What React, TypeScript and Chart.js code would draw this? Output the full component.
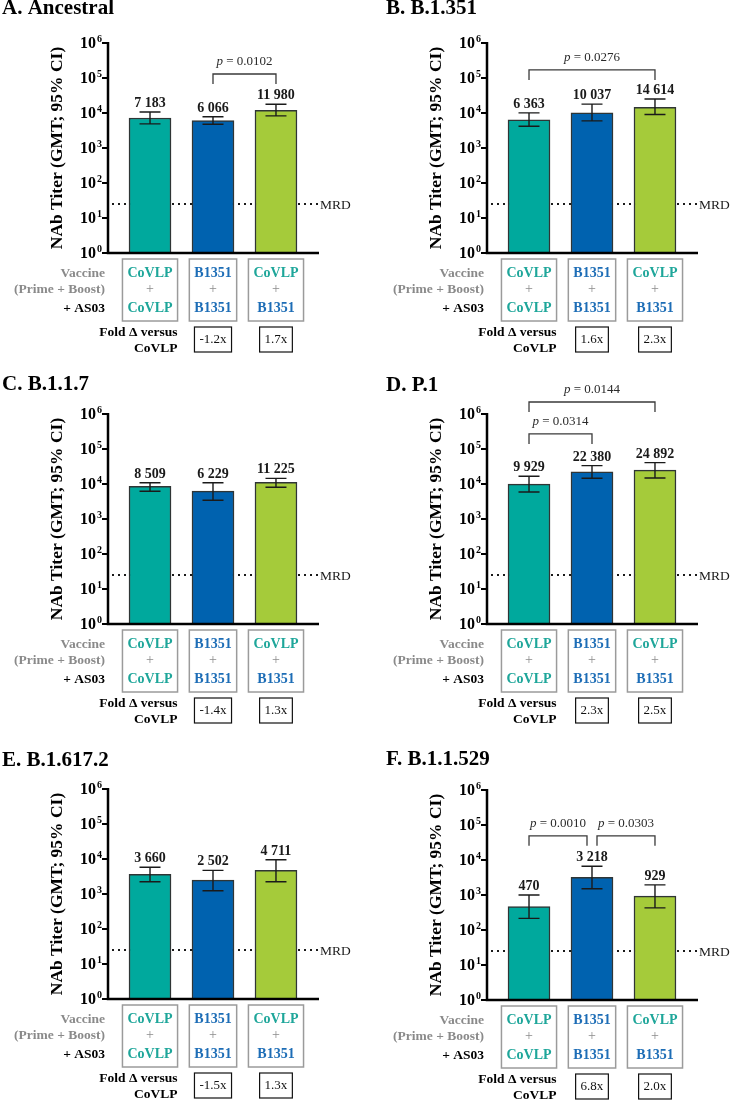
import React, { useEffect, useRef } from "react";
import { Chart, registerables } from "chart.js";

Chart.register(...registerables);

// ---------- data ----------
const categories = ["CoVLP + CoVLP", "B1351 + B1351", "CoVLP + B1351"];
const primeLabels = ["CoVLP", "B1351", "CoVLP"];
const boostLabels = ["CoVLP", "B1351", "B1351"];
const rowLabels = ["Vaccine", "(Prime + Boost)", "+ AS03"];
const foldLabel = ["Fold Δ versus", "CoVLP"];
const yTickExponents = [0, 1, 2, 3, 4, 5, 6];
const MRD = 25;

const panelTitles = ["A. Ancestral", "B. B.1.351", "C. B.1.1.7", "D. P.1", "E. B.1.617.2", "F. B.1.1.529"];

const gmtAncestral = [7183, 6066, 11980];
const lowAncestral = [4900, 4750, 8300];
const highAncestral = [10700, 7800, 17700];
const foldAncestral = ["", "-1.2x", "1.7x"];
const pAncestral = [{ from: 1, to: 2, p: "0.0102", level: 130000 }];

const gmtB1351 = [6363, 10037, 14614];
const lowB1351 = [4170, 5970, 9060];
const highB1351 = [10100, 17900, 25000];
const foldB1351 = ["", "1.6x", "2.3x"];
const pB1351 = [{ from: 0, to: 2, p: "0.0276", level: 170000 }];

const gmtB117 = [8509, 6229, 11225];
const lowB117 = [6200, 3440, 8060];
const highB117 = [10900, 10900, 14500];
const foldB117 = ["", "-1.4x", "1.3x"];
const pB117: { from: number; to: number; p: string; level: number }[] = [];

const gmtP1 = [9929, 22380, 24892];
const lowP1 = [5900, 14600, 14800];
const highP1 = [16600, 33600, 40700];
const foldP1 = ["", "2.3x", "2.5x"];
const pP1 = [
  { from: 0, to: 1, p: "0.0314", level: 270000 },
  { from: 0, to: 2, p: "0.0144", level: 2200000 },
];

const gmtDelta = [3660, 2502, 4711];
const lowDelta = [2240, 1240, 2240];
const highDelta = [5800, 4740, 9550];
const foldDelta = ["", "-1.5x", "1.3x"];
const pDelta: { from: number; to: number; p: string; level: number }[] = [];

const gmtOmicron = [470, 3218, 929];
const lowOmicron = [215, 1510, 430];
const highOmicron = [1000, 6600, 1950];
const foldOmicron = ["", "6.8x", "2.0x"];
const pOmicron = [
  { from: 0, to: 1, p: "0.0010", level: 49000 },
  { from: 1, to: 2, p: "0.0303", level: 49000 },
];

const panels = [
  { title: panelTitles[0], gmt: gmtAncestral, low: lowAncestral, high: highAncestral, fold: foldAncestral, brackets: pAncestral },
  { title: panelTitles[1], gmt: gmtB1351, low: lowB1351, high: highB1351, fold: foldB1351, brackets: pB1351 },
  { title: panelTitles[2], gmt: gmtB117, low: lowB117, high: highB117, fold: foldB117, brackets: pB117 },
  { title: panelTitles[3], gmt: gmtP1, low: lowP1, high: highP1, fold: foldP1, brackets: pP1 },
  { title: panelTitles[4], gmt: gmtDelta, low: lowDelta, high: highDelta, fold: foldDelta, brackets: pDelta },
  { title: panelTitles[5], gmt: gmtOmicron, low: lowOmicron, high: highOmicron, fold: foldOmicron, brackets: pOmicron },
];

// ---------- layout / style ----------
const W = 356;
const H = 358;
const AXIS_LEFT = 108;
const AXIS_RIGHT = 319;
const AXIS_TOP = 43;
const AXIS_BOTTOM = 253;
const BAR_WIDTH = 42;
const panelLayout = [
  { left: 0, top: 0, titleX: 2, titleY: 14 },
  { left: 379, top: 0, titleX: 7, titleY: 14 },
  { left: 0, top: 371, titleX: 2, titleY: 19 },
  { left: 379, top: 371, titleX: 7, titleY: 20 },
  { left: 0, top: 746, titleX: 2, titleY: 20 },
  { left: 379, top: 747, titleX: 7, titleY: 18 },
];
const FONT = "'Liberation Serif', 'Times New Roman', Times, serif";
const barColors = ["#00A99D", "#0062AF", "#A5CB3A"];
const labelColors: Record<string, string> = { CoVLP: "#1EA69A", B1351: "#1D6DB6" };

function fmt(v: number) {
  return String(v).replace(/\B(?=(\d{3})+(?!\d))/g, " ");
}

function makePlugin(p: any, lay: any) {
  return {
    id: "panelDecor",
    beforeDatasetsDraw(chart: any) {
      const { ctx, chartArea, scales } = chart;
      const y = scales.y.getPixelForValue(MRD);
      ctx.save();
      ctx.strokeStyle = "#1a1a1a";
      ctx.lineWidth = 2;
      ctx.setLineDash([2, 4]);
      ctx.beginPath();
      ctx.moveTo(chartArea.left + 4, y);
      ctx.lineTo(chartArea.right - 1, y);
      ctx.stroke();
      ctx.restore();
    },
    afterDatasetsDraw(chart: any) {
      const { ctx, scales } = chart;
      const xs = scales.x;
      const ys = scales.y;
      ctx.save();
      ctx.strokeStyle = "#1a1a1a";
      ctx.lineWidth = 1.4;
      p.gmt.forEach((v: number, i: number) => {
        const cx = xs.getPixelForValue(i);
        const yl = ys.getPixelForValue(p.low[i]);
        const yh = ys.getPixelForValue(p.high[i]);
        ctx.beginPath();
        ctx.moveTo(cx, yl);
        ctx.lineTo(cx, yh);
        ctx.moveTo(cx - 10.5, yl);
        ctx.lineTo(cx + 10.5, yl);
        ctx.moveTo(cx - 10.5, yh);
        ctx.lineTo(cx + 10.5, yh);
        ctx.stroke();
        ctx.fillStyle = "#1a1a1a";
        ctx.font = `bold 14px ${FONT}`;
        ctx.textAlign = "center";
        ctx.textBaseline = "alphabetic";
        ctx.fillText(fmt(v), cx, yh - 5);
      });
      ctx.restore();
    },
    afterDraw(chart: any) {
      const { ctx, chartArea, scales } = chart;
      const xs = scales.x;
      const ys = scales.y;
      const L = chartArea.left;
      const R = chartArea.right;
      const T = chartArea.top;
      const B = chartArea.bottom;
      ctx.save();
      // axes
      ctx.strokeStyle = "#000";
      ctx.lineWidth = 2.5;
      ctx.beginPath();
      ctx.moveTo(L, T - 1);
      ctx.lineTo(L, B);
      ctx.lineTo(R, B);
      ctx.stroke();
      ctx.lineWidth = 2;
      yTickExponents.forEach((e) => {
        const y = ys.getPixelForValue(Math.pow(10, e));
        ctx.beginPath();
        ctx.moveTo(L - 6, y);
        ctx.lineTo(L, y);
        ctx.stroke();
        ctx.fillStyle = "#000";
        ctx.font = `bold 16px ${FONT}`;
        ctx.textAlign = "right";
        ctx.textBaseline = "middle";
        ctx.fillText("10", L - 12, y + 1);
        ctx.font = `bold 10px ${FONT}`;
        ctx.textAlign = "left";
        ctx.textBaseline = "alphabetic";
        ctx.fillText(String(e), L - 11, y - 1);
      });
      // y title
      ctx.save();
      ctx.translate(57, (T + B) / 2);
      ctx.rotate(-Math.PI / 2);
      ctx.font = `bold 17.5px ${FONT}`;
      ctx.textAlign = "center";
      ctx.textBaseline = "middle";
      ctx.fillStyle = "#000";
      ctx.fillText("NAb Titer (GMT; 95% CI)", 0, 0);
      ctx.restore();
      // panel title
      ctx.font = `bold 21px ${FONT}`;
      ctx.textAlign = "left";
      ctx.textBaseline = "alphabetic";
      ctx.fillStyle = "#000";
      ctx.fillText(p.title, lay.titleX, lay.titleY);
      // MRD label
      const ym = ys.getPixelForValue(MRD);
      ctx.font = `13.5px ${FONT}`;
      ctx.textBaseline = "middle";
      ctx.fillStyle = "#1a1a1a";
      ctx.fillText("MRD", R + 1, ym + 1);
      // brackets
      p.brackets.forEach((b: any) => {
        let x1 = xs.getPixelForValue(b.from);
        let x2 = xs.getPixelForValue(b.to);
        if (p.brackets.some((o: any) => o !== b && o.from === b.to && o.level === b.level)) x2 -= 5;
        if (p.brackets.some((o: any) => o !== b && o.to === b.from && o.level === b.level)) x1 += 5;
        const y = ys.getPixelForValue(b.level);
        ctx.strokeStyle = "#3a3a3a";
        ctx.lineWidth = 1.3;
        ctx.beginPath();
        ctx.moveTo(x1, y + 10);
        ctx.lineTo(x1, y);
        ctx.lineTo(x2, y);
        ctx.lineTo(x2, y + 10);
        ctx.stroke();
        const t1 = "p";
        const t2 = " = " + b.p;
        ctx.font = `italic 13px ${FONT}`;
        const w1 = ctx.measureText(t1).width;
        ctx.font = `13px ${FONT}`;
        const w2 = ctx.measureText(t2).width;
        const sx = (x1 + x2) / 2 - (w1 + w2) / 2;
        ctx.fillStyle = "#2a2a2a";
        ctx.textAlign = "left";
        ctx.textBaseline = "alphabetic";
        ctx.font = `italic 13px ${FONT}`;
        ctx.fillText(t1, sx, y - 9);
        ctx.font = `13px ${FONT}`;
        ctx.fillText(t2, sx + w1, y - 9);
      });
      // table: row labels
      ctx.textAlign = "right";
      ctx.textBaseline = "alphabetic";
      ctx.font = `bold 13.5px ${FONT}`;
      const rowY = [B + 24, B + 40, B + 59];
      rowLabels.forEach((t, k) => {
        ctx.fillStyle = k < 2 ? "#8a8a8a" : "#000";
        ctx.fillText(t, L - 3, rowY[k]);
      });
      // vaccine boxes
      let box0Right = 0;
      categories.forEach((_c, i) => {
        const cx = xs.getPixelForValue(i);
        ctx.font = `bold 14px ${FONT}`;
        const tw = Math.max(ctx.measureText(primeLabels[i]).width, ctx.measureText(boostLabels[i]).width);
        const bw = tw + 10;
        if (i === 0) box0Right = cx + bw / 2;
        ctx.strokeStyle = "#9b9b9b";
        ctx.lineWidth = 1.5;
        ctx.strokeRect(cx - bw / 2, B + 6, bw, 62);
        ctx.textAlign = "center";
        ctx.fillStyle = labelColors[primeLabels[i]];
        ctx.fillText(primeLabels[i], cx, rowY[0]);
        ctx.fillStyle = labelColors[boostLabels[i]];
        ctx.fillText(boostLabels[i], cx, rowY[2]);
        ctx.font = `14px ${FONT}`;
        ctx.fillStyle = "#8c8c8c";
        ctx.fillText("+", cx, rowY[1]);
      });
      // fold labels
      ctx.font = `bold 13.5px ${FONT}`;
      ctx.fillStyle = "#000";
      ctx.textAlign = "right";
      ctx.fillText(foldLabel[0], box0Right, B + 83);
      ctx.fillText(foldLabel[1], box0Right, B + 99);
      p.fold.forEach((f: string, i: number) => {
        if (!f) return;
        const cx = xs.getPixelForValue(i);
        ctx.font = `13px ${FONT}`;
        const tw = ctx.measureText(f).width;
        const bw = tw + 10;
        ctx.strokeStyle = "#111";
        ctx.lineWidth = 1.2;
        ctx.strokeRect(cx - bw / 2, B + 74, bw, 25);
        ctx.fillStyle = "#111";
        ctx.textAlign = "center";
        ctx.textBaseline = "middle";
        ctx.fillText(f, cx, B + 87);
        ctx.textBaseline = "alphabetic";
      });
      ctx.restore();
    },
  };
}

function Panel({ idx }: { idx: number }) {
  const ref = useRef<HTMLCanvasElement>(null);
  const p = panels[idx];
  const lay = panelLayout[idx];
  useEffect(() => {
    const chart = new Chart(ref.current as HTMLCanvasElement, {
      type: "bar",
      data: {
        labels: categories,
        datasets: [
          {
            data: p.gmt.map((v, i) => ({ x: i, y: v })) as any,
            backgroundColor: barColors,
            borderColor: "#2f3535",
            borderWidth: 1.5,
            borderSkipped: "bottom",
            barThickness: BAR_WIDTH,
          },
        ],
      },
      options: {
        responsive: false,
        animation: false,
        devicePixelRatio: 1,
        layout: { padding: { left: AXIS_LEFT, right: W - AXIS_RIGHT, top: AXIS_TOP, bottom: H - AXIS_BOTTOM } },
        plugins: { legend: { display: false }, tooltip: { enabled: false }, title: { display: false } },
        scales: {
          x: { type: "linear", min: -0.667, max: 2.683, display: false, bounds: "data", offset: false } as any,
          y: { type: "logarithmic", min: 1, max: 1000000, display: false },
        },
      },
      plugins: [makePlugin(p, lay)],
    });
    return () => chart.destroy();
  }, []);
  return (
    <canvas
      ref={ref}
      width={W}
      height={H}
      style={{ position: "absolute", left: lay.left, top: lay.top, width: W, height: H }}
    />
  );
}

export default function App() {
  return (
    <div
      style={{
        position: "absolute",
        left: 0,
        top: 0,
        width: 731,
        height: 1102,
        overflow: "hidden",
        background: "#fff",
      }}
    >
      {panels.map((_p, i) => (
        <Panel key={i} idx={i} />
      ))}
    </div>
  );
}
